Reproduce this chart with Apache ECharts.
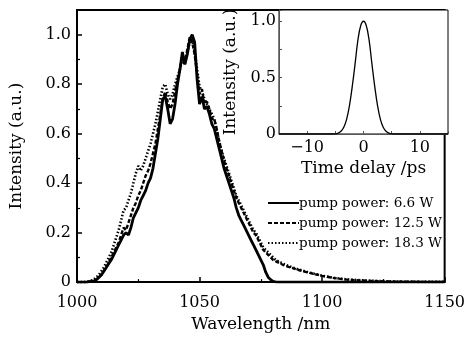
<!DOCTYPE html>
<html><head><meta charset="utf-8">
<script src="https://cdn.jsdelivr.net/npm/echarts@6/dist/echarts.min.js"></script>
<style>html,body{margin:0;padding:0;background:#fff}#c{width:468px;height:338px}</style>
</head><body><div id="c"></div>
<script>
const wavelength = [1000,1001,1002,1003,1004,1005,1006,1007,1008,1009,1010,1011,1012,1013,1014,1015,1016,1017,1018,1019,
1020,1021,1022,1023,1024,1025,1026,1027,1028,1029,1030,1031,1032,1033,1034,1035,1036,1037,1038,1039,
1040,1041,1042,1043,1044,1045,1046,1047,1048,1049,1050,1051,1052,1053,1054,1055,1056,1057,1058,1059,
1060,1061,1062,1063,1064,1065,1066,1067,1068,1069,1070,1071,1072,1073,1074,1075,1076,1077,1078,1079,
1080,1081,1082,1083,1084,1085,1090,1095,1100,1105,1110,1115,1120,1125,1130,1140,1150];
const pump66 = [0,0,0,0,0,0.002,0.003,0.005,0.01,0.02,0.03,0.045,0.06,0.075,0.09,0.11,0.13,0.15,0.17,0.19,
0.2,0.19,0.22,0.26,0.28,0.3,0.33,0.35,0.37,0.4,0.42,0.46,0.52,0.58,0.66,0.74,0.75,0.7,0.64,0.66,
0.72,0.8,0.86,0.93,0.88,0.92,0.98,1.0,0.97,0.82,0.72,0.75,0.7,0.71,0.68,0.64,0.62,0.58,0.54,0.5,
0.46,0.43,0.4,0.37,0.34,0.3,0.27,0.25,0.23,0.21,0.19,0.17,0.15,0.13,0.11,0.09,0.07,0.04,0.02,0.01,
0.003,0.001,0,0,0,0,0,0,0,0,0,0,0,0,0,0,0];
const pump125 = [0,0,0,0,0,0.002,0.004,0.007,0.012,0.02,0.03,0.045,0.06,0.08,0.1,0.12,0.14,0.16,0.19,0.22,
0.21,0.24,0.27,0.3,0.32,0.35,0.37,0.4,0.43,0.45,0.48,0.52,0.56,0.62,0.68,0.74,0.77,0.73,0.7,0.72,
0.77,0.82,0.86,0.92,0.89,0.94,0.99,0.97,0.92,0.84,0.76,0.78,0.72,0.73,0.7,0.66,0.66,0.62,0.57,0.53,
0.49,0.46,0.43,0.4,0.37,0.34,0.32,0.3,0.28,0.26,0.24,0.22,0.2,0.19,0.17,0.15,0.13,0.12,0.11,0.1,
0.09,0.085,0.08,0.075,0.07,0.066,0.05,0.037,0.025,0.016,0.01,0.007,0.005,0.003,0.002,0.001,0.001];
const pump183 = [0,0,0,0,0.002,0.004,0.007,0.012,0.02,0.03,0.045,0.06,0.08,0.1,0.12,0.15,0.18,0.21,0.25,0.29,
0.3,0.33,0.36,0.4,0.44,0.47,0.45,0.47,0.5,0.53,0.56,0.6,0.64,0.69,0.74,0.79,0.8,0.76,0.74,0.76,
0.8,0.83,0.86,0.9,0.88,0.93,0.97,0.98,0.93,0.86,0.79,0.77,0.74,0.72,0.7,0.68,0.66,0.61,0.57,0.53,
0.5,0.47,0.44,0.41,0.38,0.35,0.33,0.31,0.29,0.27,0.25,0.23,0.21,0.2,0.18,0.16,0.14,0.13,0.12,0.11,
0.1,0.09,0.085,0.08,0.075,0.07,0.052,0.038,0.026,0.017,0.011,0.008,0.005,0.004,0.002,0.001,0.001];
const timeDelay = [-15,-10,-6,-5,-4.5,-4,-3.5,-3,-2.5,-2,-1.5,-1,-0.5,0,0.5,1,1.5,2,2.5,3,3.5,4,4.5,5,6,10,15];
const acf = [0,0,0,0.002,0.008,0.025,0.06,0.13,0.25,0.42,0.62,0.83,0.96,1.0,0.96,0.83,0.62,0.42,0.25,0.13,0.06,0.025,0.008,0.002,0,0,0];
const seriesNames = ['pump power: 6.6 W','pump power: 12.5 W','pump power: 18.3 W'];
const xTicks = [1000,1050,1100,1150];
const yTicks = [0,0.2,0.4,0.6,0.8,1.0];

const FONT = 'DejaVu Serif';
const zip = (xs, ys) => xs.map((x, i) => [x, ys[i]]);
const chart = echarts.init(document.getElementById('c'), null, {renderer:'canvas'});
const txt = {color:'#000', fontFamily:FONT};
chart.setOption({
  animation:false,
  backgroundColor:'#fff',
  grid:[
    {left:74, top:10, width:374, height:277, show:true, borderColor:'#000', borderWidth:2, backgroundColor:'transparent'},
    {left:279, top:10, width:169, height:124, show:true, borderColor:'#000', borderWidth:1, backgroundColor:'#fff'}
  ],
  legend:{
    data:seriesNames, orient:'vertical', left:262, top:191, itemWidth:31, itemHeight:10, itemGap:6,
    itemStyle:{opacity:0},
    textStyle:{...txt, fontSize:13.5, padding:[0,0,0,-5]}
  },
  xAxis:[
    {gridIndex:0, type:'value', min:xTicks[0], max:xTicks[xTicks.length-1], interval:50,
     name:'Wavelength /nm', nameLocation:'middle', nameGap:33, nameTextStyle:{...txt, fontSize:17},
     axisLine:{show:true, lineStyle:{color:'#000', width:2}},
     axisTick:{show:true, inside:true, length:5, lineStyle:{color:'#000', width:1.5}},
     minorTick:{show:true, splitNumber:2, length:3, lineStyle:{color:'#000', width:1.2}},
     axisLabel:{...txt, fontSize:16, margin:13, formatter:v => String(v)}, splitLine:{show:false}},
    {gridIndex:1, type:'value', min:-15, max:15, interval:5,
     name:'Time delay /ps', nameLocation:'middle', nameGap:26, nameTextStyle:{...txt, fontSize:17},
     axisLine:{show:true, onZero:false, lineStyle:{color:'#555', width:1}},
     axisTick:{show:true, inside:true, length:3, lineStyle:{color:'#555', width:1}},
     axisLabel:{...txt, fontSize:16, margin:6, formatter:v => (v===0?'0':(Math.abs(v)===10?(v<0?'\u2212'+Math.abs(v):String(v)):''))},
     splitLine:{show:false}}
  ],
  yAxis:[
    {gridIndex:0, type:'value', min:0, max:1.1, interval:0.2,
     name:'Intensity (a.u.)', nameLocation:'middle', nameGap:52, nameTextStyle:{...txt, fontSize:17},
     axisLine:{show:true, lineStyle:{color:'#000', width:2}},
     axisTick:{show:true, inside:true, length:5, lineStyle:{color:'#000', width:1.5}},
     minorTick:{show:true, splitNumber:2, length:3, lineStyle:{color:'#000', width:1.2}},
     axisLabel:{...txt, fontSize:16, margin:6, formatter:v => (v>1.05?'':(v===0?'0':v.toFixed(1)))},
     splitLine:{show:false}},
    {gridIndex:1, type:'value', min:0, max:1.1, interval:0.25,
     name:'Intensity (a.u.)', nameLocation:'middle', nameGap:40, nameTextStyle:{...txt, fontSize:17},
     axisLine:{show:true, onZero:false, lineStyle:{color:'#555', width:1}},
     axisTick:{show:true, inside:true, length:3, lineStyle:{color:'#555', width:1}},
     axisLabel:{...txt, fontSize:16, margin:3, formatter:v => (v===0?'0':(v===0.5?'0.5':(v===1?'1.0':'')))},
     splitLine:{show:false}}
  ],
  series:[
    {name:seriesNames[0], type:'line', xAxisIndex:0, yAxisIndex:0, data:zip(wavelength,pump66), symbol:'none',
     lineStyle:{color:'#000', width:2.8, type:'solid'}, itemStyle:{color:'#000'}, z:5},
    {name:seriesNames[1], type:'line', xAxisIndex:0, yAxisIndex:0, data:zip(wavelength,pump125), symbol:'none',
     lineStyle:{color:'#000', width:2.4, type:[4,2]}, itemStyle:{color:'#000'}, z:4},
    {name:seriesNames[2], type:'line', xAxisIndex:0, yAxisIndex:0, data:zip(wavelength,pump183), symbol:'none',
     lineStyle:{color:'#000', width:2.6, type:[1.5,2]}, itemStyle:{color:'#000'}, z:3},
    {name:'acf', type:'line', xAxisIndex:1, yAxisIndex:1, data:zip(timeDelay,acf), symbol:'none', smooth:0.4,
     lineStyle:{color:'#000', width:1.3}, z:6}
  ]
});
</script></body></html>
